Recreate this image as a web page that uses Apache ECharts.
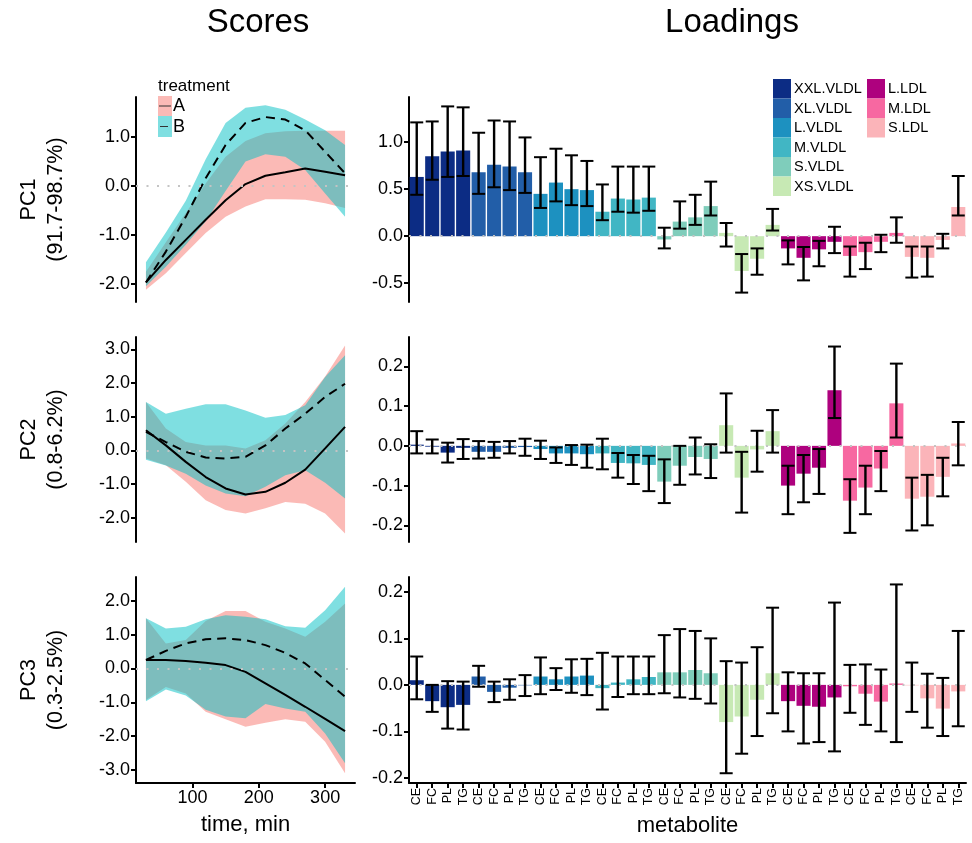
<!DOCTYPE html>
<html>
<head>
<meta charset="utf-8">
<script src="https://cdn.jsdelivr.net/npm/echarts@6/dist/echarts.min.js"></script>
<style>
  html, body { margin: 0; background: #fff; }
  #chart { width: 972px; height: 843px; }
</style>
</head>
<body>
<div id="chart"></div>
<script>
// score time points (min)
const times = [30, 60, 90, 120, 150, 180, 210, 240, 270, 300, 330];

// PC1 scores
const pc1A    = [-1.97, -1.51, -1.10, -0.69, -0.29, 0.04, 0.21, 0.28, 0.36, 0.29, 0.22];
const pc1ALo  = [-2.12, -1.78, -1.37, -0.96, -0.63, -0.42, -0.27, -0.27, -0.28, -0.35, -0.45];
const pc1AHi  = [-1.75, -1.15, -0.55, 0.05, 0.60, 0.92, 1.08, 1.12, 1.13, 1.13, 1.13];
const pc1B    = [-1.97, -1.34, -0.63, 0.16, 0.84, 1.29, 1.41, 1.36, 1.14, 0.70, 0.26];
const pc1BLo  = [-2.05, -1.65, -1.20, -0.72, -0.10, 0.50, 0.65, 0.60, 0.33, -0.15, -0.63];
const pc1BHi  = [-1.56, -0.95, -0.30, 0.55, 1.29, 1.60, 1.65, 1.56, 1.36, 1.14, 0.84];

// PC2 scores
const pc2A    = [0.60, 0.15, -0.34, -0.79, -1.13, -1.31, -1.23, -0.96, -0.57, 0.06, 0.70];
const pc2ALo  = [-0.24, -0.44, -0.93, -1.48, -1.77, -1.87, -1.72, -1.53, -1.58, -1.87, -2.47];
const pc2AHi  = [1.44, 0.65, 0.25, 0.15, 0.15, 0.06, 0.30, 0.80, 1.44, 2.20, 3.12];
const pc2B    = [0.55, 0.25, -0.04, -0.21, -0.24, -0.19, 0.15, 0.65, 1.09, 1.59, 1.98];
const pc2BLo  = [-0.28, -0.45, -0.69, -1.04, -1.28, -1.36, -1.08, -0.74, -0.59, -0.96, -1.43];
const pc2BHi  = [1.44, 1.09, 1.24, 1.37, 1.37, 1.19, 0.97, 1.05, 1.34, 2.18, 2.83];

// PC3 scores
const pc3A    = [0.25, 0.25, 0.22, 0.17, 0.10, -0.10, -0.44, -0.78, -1.13, -1.49, -1.85];
const pc3ALo  = [-0.93, -0.55, -0.74, -1.28, -1.50, -1.72, -1.60, -1.50, -1.57, -2.16, -3.09];
const pc3AHi  = [1.48, 0.74, 0.84, 1.40, 1.70, 1.70, 1.38, 1.18, 0.94, 1.38, 1.92];
const pc3B    = [0.25, 0.52, 0.74, 0.86, 0.89, 0.84, 0.69, 0.46, 0.15, -0.34, -0.83];
const pc3BLo  = [-0.97, -0.62, -0.80, -1.22, -1.42, -1.47, -1.05, -1.18, -1.28, -1.92, -2.80];
const pc3BHi  = [1.48, 1.18, 1.23, 1.45, 1.57, 1.53, 1.45, 1.25, 1.20, 1.72, 2.41];

// loadings
const classes = ['XXL.VLDL', 'XL.VLDL', 'L.VLDL', 'M.VLDL', 'S.VLDL', 'XS.VLDL', 'L.LDL', 'M.LDL', 'S.LDL'];
const classColors = ['#0c2c84', '#225ea8', '#1d91c0', '#41b6c4', '#7fcdbb', '#c7e9b4', '#ae017e', '#f768a1', '#fbb4b9'];
const lipids = ['CE', 'FC', 'PL', 'TG'];

const load1   = [0.63, 0.85, 0.90, 0.91, 0.68, 0.76, 0.74, 0.68, 0.45, 0.57, 0.50, 0.49, 0.26, 0.40, 0.39, 0.41,
                 -0.035, 0.155, 0.20, 0.32, 0.035, -0.37, -0.24, 0.12, -0.13, -0.23, -0.14, -0.06,
                 -0.21, -0.17, -0.06, 0.035, -0.22, -0.23, -0.04, 0.31];
const load1Lo = [0.44, 0.60, 0.63, 0.64, 0.45, 0.52, 0.49, 0.46, 0.30, 0.37, 0.33, 0.32, 0.17, 0.26, 0.25, 0.27,
                 -0.13, 0.08, 0.12, 0.22, -0.11, -0.60, -0.41, 0.06, -0.30, -0.47, -0.32, -0.18,
                 -0.43, -0.35, -0.17, -0.07, -0.44, -0.43, -0.13, 0.22];
const load1Hi = [1.21, 1.22, 1.38, 1.37, 1.10, 1.23, 1.22, 1.05, 0.84, 0.93, 0.86, 0.80, 0.55, 0.74, 0.74, 0.74,
                 0.09, 0.37, 0.44, 0.58, 0.14, -0.19, -0.13, 0.29, -0.045, -0.115, -0.05, 0.10,
                 -0.11, -0.07, 0.015, 0.20, -0.11, -0.11, 0.025, 0.64];

const load2   = [0.003, -0.002, -0.017, -0.005, -0.015, -0.015, -0.005, -0.003, -0.008, -0.019, -0.019, -0.021,
                 -0.019, -0.043, -0.044, -0.048, -0.090, -0.050, -0.028, -0.033, 0.052, -0.080, -0.009, 0.037,
                 -0.100, -0.070, -0.055, 0.140, -0.138, -0.105, -0.057, 0.107, -0.133, -0.128, -0.078, 0.006];
const load2Lo = [-0.019, -0.019, -0.042, -0.033, -0.032, -0.030, -0.019, -0.025, -0.033, -0.043, -0.048, -0.055,
                 -0.059, -0.080, -0.096, -0.114, -0.144, -0.098, -0.072, -0.081, -0.017, -0.168, -0.065, -0.017,
                 -0.172, -0.142, -0.121, 0.070, -0.219, -0.172, -0.114, 0.021, -0.213, -0.200, -0.127, -0.049];
const load2Hi = [0.037, 0.016, 0.008, 0.017, 0.012, 0.010, 0.012, 0.018, 0.013, -0.004, 0.002, 0.003,
                 0.018, -0.018, -0.023, -0.025, -0.034, 0.000, 0.021, 0.004, 0.132, -0.015, 0.038, 0.090,
                 -0.050, -0.023, -0.008, 0.250, -0.084, -0.050, -0.013, 0.207, -0.080, -0.073, -0.030, 0.060];

const load3   = [0.010, -0.035, -0.048, -0.043, 0.018, -0.015, -0.006, -0.001, 0.018, 0.012, 0.018, 0.020,
                 -0.007, 0.005, 0.012, 0.017, 0.027, 0.027, 0.032, 0.025, -0.080, -0.068, -0.032, 0.025,
                 -0.035, -0.045, -0.047, -0.027, -0.003, -0.019, -0.036, 0.003, -0.001, -0.029, -0.051, -0.014];
const load3Lo = [-0.031, -0.058, -0.094, -0.096, -0.004, -0.037, -0.032, -0.024, -0.020, -0.011, -0.017, -0.022,
                 -0.053, -0.026, -0.020, -0.020, -0.018, -0.027, -0.030, -0.040, -0.190, -0.148, -0.110, -0.061,
                 -0.100, -0.126, -0.123, -0.143, -0.060, -0.086, -0.100, -0.123, -0.058, -0.092, -0.110, -0.089];
const load3Hi = [0.061, 0.000, 0.008, 0.007, 0.041, 0.007, 0.012, 0.021, 0.059, 0.036, 0.055, 0.056,
                 0.069, 0.061, 0.061, 0.061, 0.107, 0.120, 0.116, 0.100, 0.051, 0.048, 0.081, 0.166,
                 0.027, 0.025, 0.025, 0.177, 0.043, 0.044, 0.033, 0.216, 0.048, 0.024, 0.015, 0.116];

const scoreTicks = [[-2, -1, 0, 1], [-2, -1, 0, 1, 2, 3], [-3, -2, -1, 0, 1, 2]];
const loadTicks = [[-0.5, 0, 0.5, 1], [-0.2, -0.1, 0, 0.1, 0.2], [-0.2, -0.1, 0, 0.1, 0.2]];
const timeTicks = [100, 200, 300];

// unique category keys, label shows only the lipid part
const metabolites = [];
classes.forEach(c => lipids.forEach(l => metabolites.push(c + ' ' + l)));

const FONT = '"Liberation Sans", Arial, Helvetica, sans-serif';
const chart = echarts.init(document.getElementById('chart'));

const tops = [97, 337, 577];
const heights = [205, 205, 206];

const scorePanels = [
  { name: 'PC1\n(91.7-98.7%)', min: -2.37, max: 1.82, A: pc1A, ALo: pc1ALo, AHi: pc1AHi, B: pc1B, BLo: pc1BLo, BHi: pc1BHi },
  { name: 'PC2\n(0.8-6.2%)', min: -2.72, max: 3.37, A: pc2A, ALo: pc2ALo, AHi: pc2AHi, B: pc2B, BLo: pc2BLo, BHi: pc2BHi },
  { name: 'PC3\n(0.3-2.5%)', min: -3.38, max: 2.70, A: pc3A, ALo: pc3ALo, AHi: pc3AHi, B: pc3B, BLo: pc3BLo, BHi: pc3BHi }
];
const loadPanels = [
  { min: -0.70, max: 1.48, v: load1, lo: load1Lo, hi: load1Hi },
  { min: -0.242, max: 0.274, v: load2, lo: load2Lo, hi: load2Hi },
  { min: -0.211, max: 0.232, v: load3, lo: load3Lo, hi: load3Hi }
];

const axisLineStyle = { show: true, onZero: false, lineStyle: { color: '#000', width: 2 } };
const tickStyle = (vals) => ({ show: true, customValues: vals, length: 5, lineStyle: { color: '#000', width: 2 } });

const grids = [], xAxes = [], yAxes = [], series = [];

// grey dotted zero reference
const zeroLine = {
  silent: true, symbol: 'none', label: { show: false },
  lineStyle: { type: [2, 8.5], color: '#c4c4c4', width: 2.2 },
  data: [{ yAxis: 0 }]
};

// ribbon drawn as one polygon through the axis scales
const ribbon = (idx, lo, hi, color) => ({
  type: 'custom', xAxisIndex: idx, yAxisIndex: idx, silent: true,
  data: times.map((t, i) => [t, lo[i], hi[i]]),
  renderItem: (params, api) => {
    if (params.dataIndex !== 0) return null;
    const pts = [];
    times.forEach((t, i) => pts.push(api.coord([t, hi[i]])));
    for (let i = times.length - 1; i >= 0; i--) pts.push(api.coord([times[i], lo[i]]));
    return { type: 'polygon', shape: { points: pts }, style: { fill: color } };
  }
});

scorePanels.forEach((p, k) => {
  grids.push({ left: 136, top: tops[k], width: 219, height: heights[k] });
  const last = k === 2;
  xAxes.push({
    type: 'value', gridIndex: k, min: 15, max: 345,
    show: last,
    axisLine: axisLineStyle,
    axisTick: tickStyle(timeTicks),
    axisLabel: { customValues: timeTicks, color: '#000', fontSize: 18, fontFamily: FONT, margin: 6 },
    splitLine: { show: false },
    name: 'time, min', nameLocation: 'middle', nameGap: 31,
    nameTextStyle: { color: '#000', fontSize: 22, fontFamily: FONT }
  });
  yAxes.push({
    type: 'value', gridIndex: k, min: p.min, max: p.max,
    axisLine: axisLineStyle,
    axisTick: tickStyle(scoreTicks[k]),
    axisLabel: { customValues: scoreTicks[k], formatter: v => v.toFixed(1), color: '#000', fontSize: 18, fontFamily: FONT, margin: 6 },
    splitLine: { show: false },
    name: p.name, nameLocation: 'middle', nameRotate: 90, nameGap: 66,
    nameTextStyle: { color: '#000', fontSize: 21.5, lineHeight: 27, fontFamily: FONT, align: 'center' }
  });
  series.push(ribbon(k, p.ALo, p.AHi, 'rgba(248,118,109,0.5)'));
  series.push(ribbon(k, p.BLo, p.BHi, 'rgba(0,191,196,0.5)'));
  series.push({
    type: 'line', xAxisIndex: k, yAxisIndex: k, showSymbol: false, silent: true,
    data: times.map((t, i) => [t, p.A[i]]),
    lineStyle: { color: '#000', width: 2 },
    markLine: zeroLine
  });
  series.push({
    type: 'line', xAxisIndex: k, yAxisIndex: k, showSymbol: false, silent: true,
    data: times.map((t, i) => [t, p.B[i]]),
    lineStyle: { color: '#000', width: 2, type: [9, 6] }
  });
});

loadPanels.forEach((p, k) => {
  const gi = k + 3;
  const last = k === 2;
  grids.push({ left: 409, top: tops[k], width: 557, height: heights[k] });
  xAxes.push({
    type: 'category', gridIndex: gi, data: metabolites,
    show: last,
    axisLine: axisLineStyle,
    axisTick: { show: true, alignWithLabel: true, interval: 0, length: 5, lineStyle: { color: '#000', width: 2 } },
    axisLabel: { interval: 0, rotate: 90, formatter: v => v.split(' ')[1], color: '#000', fontSize: 12.5, fontFamily: FONT, margin: 5 },
    name: 'metabolite', nameLocation: 'middle', nameGap: 32,
    nameTextStyle: { color: '#000', fontSize: 22, fontFamily: FONT }
  });
  yAxes.push({
    type: 'value', gridIndex: gi, min: p.min, max: p.max,
    axisLine: axisLineStyle,
    axisTick: tickStyle(loadTicks[k]),
    axisLabel: { customValues: loadTicks[k], formatter: v => v.toFixed(1), color: '#000', fontSize: 18, fontFamily: FONT, margin: 6 },
    splitLine: { show: false }
  });
  series.push({
    type: 'bar', xAxisIndex: gi, yAxisIndex: gi, silent: true,
    data: p.v, barCategoryGap: '9%',
    itemStyle: { color: params => classColors[Math.floor(params.dataIndex / 4)] },
    markLine: zeroLine
  });
  series.push({
    type: 'custom', xAxisIndex: gi, yAxisIndex: gi, silent: true, z: 5,
    data: p.v.map((v, i) => [i, p.lo[i], p.hi[i]]),
    renderItem: (params, api) => {
      const top = api.coord([api.value(0), api.value(2)]);
      const bot = api.coord([api.value(0), api.value(1)]);
      const half = api.size([1, 0])[0] * 0.42;
      const st = { stroke: '#000', lineWidth: 2 };
      return {
        type: 'group',
        children: [
          { type: 'line', shape: { x1: top[0], y1: top[1], x2: bot[0], y2: bot[1] }, style: { stroke: '#000', lineWidth: 2.4 } },
          { type: 'line', shape: { x1: top[0] - half, y1: top[1], x2: top[0] + half, y2: top[1] }, style: st },
          { type: 'line', shape: { x1: bot[0] - half, y1: bot[1], x2: bot[0] + half, y2: bot[1] }, style: st }
        ]
      };
    }
  });
});

// legends
const graphic = [];
graphic.push({ type: 'text', x: 158, y: 86, style: { text: 'treatment', fill: '#000', font: '17px ' + FONT, verticalAlign: 'middle' }, z: 50 });
graphic.push({ type: 'rect', shape: { x: 158, y: 96, width: 14, height: 20 }, style: { fill: '#fbbab6' }, z: 50 });
graphic.push({ type: 'rect', shape: { x: 158, y: 116, width: 14, height: 21 }, style: { fill: '#7fdfe1' }, z: 50 });
graphic.push({ type: 'line', shape: { x1: 159, y1: 106, x2: 171, y2: 106 }, style: { stroke: '#333', lineWidth: 1 }, z: 51 });
graphic.push({ type: 'line', shape: { x1: 160, y1: 126.5, x2: 168, y2: 126.5 }, style: { stroke: '#333', lineWidth: 1 }, z: 51 });
graphic.push({ type: 'text', x: 173, y: 106, style: { text: 'A', fill: '#000', font: '18px ' + FONT, verticalAlign: 'middle' }, z: 50 });
graphic.push({ type: 'text', x: 173, y: 127, style: { text: 'B', fill: '#000', font: '18px ' + FONT, verticalAlign: 'middle' }, z: 50 });

classes.forEach((c, i) => {
  const col = i < 6 ? 0 : 1;
  const row = i < 6 ? i : i - 6;
  const x = col === 0 ? 773 : 867;
  const y = 79 + row * 19.5;
  graphic.push({ type: 'rect', shape: { x: x, y: y, width: 18, height: 19.5 }, style: { fill: classColors[i] }, z: 50 });
  graphic.push({ type: 'text', x: x + 21, y: y + 10, style: { text: c, fill: '#000', font: '14.5px ' + FONT, verticalAlign: 'middle' }, z: 50 });
});

chart.setOption({
  animation: false,
  backgroundColor: '#fff',
  textStyle: { fontFamily: FONT },
  title: [
    { text: 'Scores', left: 253, top: 1, textAlign: 'center', textStyle: { fontSize: 33, fontWeight: 'normal', color: '#000', fontFamily: FONT } },
    { text: 'Loadings', left: 727, top: 1, textAlign: 'center', textStyle: { fontSize: 33, fontWeight: 'normal', color: '#000', fontFamily: FONT } }
  ],
  grid: grids,
  xAxis: xAxes,
  yAxis: yAxes,
  series: series,
  graphic: graphic
});
</script>
</body>
</html>
